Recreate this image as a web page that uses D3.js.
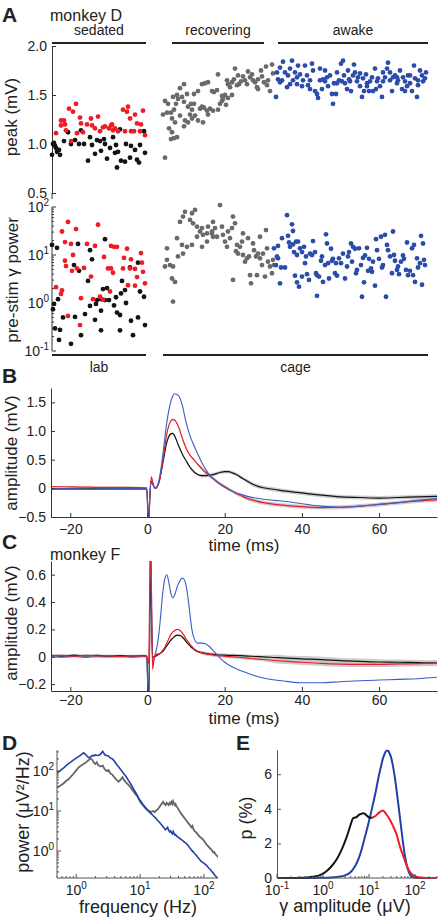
<!DOCTYPE html>
<html><head><meta charset="utf-8">
<script src="https://cdn.jsdelivr.net/npm/d3@7"></script>
<style>
body{margin:0;background:#fff;}
svg text{font-family:"Liberation Sans",Arial,Helvetica,sans-serif;fill:#222;}
</style></head><body>
<svg id="fig" width="439" height="919"></svg>
<script>
// ---------------- DATA ----------------
// Panel A: [trial index, peak (mV)]
const sedRedPeak = [[24,1.41],[17,1.36],[21,1.33],[9,1.24],[12,1.24],[9,1.19],[13,1.2],[4,1.11],[14,1.14],[19,1.03],[28,1.27],[29,1.21],[25,1.11],[31,1.12],[35,1.2],[39,1.26],[40,1.19],[46,1.28],[43,1.16],[48,1.13],[51,1.17],[53,1.18],[57,1.16],[59,1.19],[60,1.2],[61,1.14],[63,1.16],[66,1.13],[71,1.35],[76,1.38],[75,1.33],[78,1.26],[73,1.13],[79,1.13],[83,1.3],[85,1.21],[89,1.2],[91,1.34],[93,1.09],[88,1.13],[82,1.13]];
const sedBlkPeak = [[1,1.0],[0,0.89],[3,0.98],[4,0.96],[7,0.94],[8,0.89],[12,1.03],[16,1.12],[19,1.0],[23,1.04],[27,1.0],[29,1.14],[32,1.0],[36,0.83],[38,1.07],[40,0.99],[43,0.9],[45,1.04],[48,1.03],[49,0.93],[52,1.05],[53,1.0],[55,0.85],[58,0.96],[61,1.07],[63,0.91],[64,0.99],[66,0.92],[68,1.15],[65,0.76],[69,0.83],[73,0.82],[74,1.0],[78,0.86],[79,0.98],[83,0.94],[85,0.84],[88,0.99],[87,0.81],[93,0.91],[92,1.13],[2,1.01],[5,0.92]];
const recPeak = [[113,0.86],[119,1.05],[122,1.06],[125,1.07],[117,1.16],[120,1.12],[123,1.22],[132,1.18],[136,1.22],[146,1.24],[115,1.32],[119,1.32],[122,1.35],[116,1.41],[124,1.41],[126,1.46],[125,1.5],[128,1.57],[130,1.48],[132,1.43],[135,1.51],[136,1.38],[138,1.3],[140,1.35],[142,1.41],[143,1.29],[146,1.54],[150,1.61],[153,1.62],[156,1.63],[148,1.36],[150,1.38],[152,1.37],[155,1.34],[158,1.36],[160,1.54],[162,1.53],[165,1.55],[166,1.71],[161,1.34],[168,1.41],[170,1.49],[171,1.46],[173,1.5],[175,1.65],[176,1.61],[178,1.58],[180,1.63],[182,1.66],[183,1.77],[186,1.7],[187,1.61],[189,1.64],[191,1.69],[193,1.65],[195,1.61],[196,1.74],[198,1.68],[200,1.71],[201,1.65],[203,1.63],[205,1.58],[206,1.66],[209,1.75],[210,1.69],[212,1.63],[214,1.79],[215,1.6],[216,1.65],[218,1.54],[220,1.81],[221,1.72],[180,1.5],[185,1.6],[176,1.47],[170,1.44],[174,1.4],[166,1.35],[139,1.41],[156,1.3],[151,1.22],[142,1.51],[111,1.3],[113,1.44],[121,1.48],[132,1.61],[133,1.24],[140,1.26],[128,1.29],[120,1.26],[206,1.56]];
const awkPeak = [[224,1.48],[225,1.73],[226,1.66],[228,1.78],[230,1.65],[231,1.84],[233,1.73],[235,1.58],[236,1.7],[238,1.77],[240,1.85],[241,1.65],[243,1.73],[245,1.68],[246,1.8],[248,1.71],[250,1.59],[251,1.65],[253,1.8],[255,1.7],[256,1.6],[258,1.56],[260,1.82],[261,1.75],[263,1.54],[265,1.51],[266,1.47],[268,1.77],[270,1.56],[271,1.66],[273,1.64],[275,1.68],[276,1.59],[278,1.7],[280,1.51],[281,1.41],[282,1.62],[284,1.51],[285,1.73],[287,1.65],[289,1.82],[291,1.85],[292,1.7],[293,1.62],[295,1.56],[296,1.75],[297,1.66],[299,1.54],[301,1.7],[302,1.81],[303,1.73],[305,1.64],[306,1.68],[308,1.59],[310,1.48],[311,1.67],[312,1.54],[314,1.71],[315,1.62],[317,1.54],[318,1.64],[320,1.68],[321,1.54],[323,1.77],[325,1.64],[326,1.67],[328,1.59],[330,1.48],[331,1.73],[333,1.68],[335,1.77],[336,1.83],[338,1.65],[340,1.54],[341,1.68],[343,1.7],[345,1.62],[346,1.65],[348,1.75],[350,1.56],[351,1.68],[353,1.64],[355,1.59],[356,1.7],[358,1.62],[360,1.54],[362,1.8],[363,1.67],[365,1.48],[366,1.6],[368,1.75],[370,1.7],[371,1.64],[373,1.67],[374,1.73],[228,1.63],[238,1.61],[245,1.61],[258,1.65],[268,1.65],[273,1.75],[285,1.62],[290,1.64],[298,1.64],[308,1.72],[315,1.59],[324,1.56],[331,1.64],[338,1.73],[345,1.68],[353,1.54],[358,1.7],[366,1.65]];
// Panel A: [trial index, log10 pre-stim gamma power]
const sedRedPow = [[16,1.69],[10,1.49],[24,1.54],[46,1.63],[13,1.27],[19,1.23],[35,1.23],[43,1.19],[59,1.19],[62,1.17],[65,1.17],[21,1.0],[13,0.88],[14,0.77],[20,0.67],[25,0.72],[32,0.73],[39,0.55],[52,0.96],[56,0.72],[59,0.72],[61,0.63],[75,1.13],[72,0.94],[79,0.91],[89,1.04],[90,0.84],[71,0.72],[78,0.72],[83,0.71],[91,0.65],[85,0.54],[93,0.41],[76,0.37],[83,0.36],[4,0.33],[10,0.26],[9,0.19],[29,0.1],[41,0.08],[48,0.13],[58,0.24],[51,0.07],[16,-0.27],[28,-0.46]];
const sedBlkPow = [[0,1.21],[5,1.15],[26,1.23],[53,1.33],[38,1.1],[40,0.91],[22,0.79],[27,0.67],[36,0.46],[55,0.31],[6,0.08],[2,-0.02],[1,-0.13],[11,-0.3],[23,-0.29],[33,-0.23],[38,-0.06],[45,0.06],[44,-0.02],[49,0.08],[53,0.06],[57,0.06],[51,0.29],[62,-0.05],[64,0.12],[69,0.2],[70,0.46],[73,0.27],[74,0.0],[65,-0.2],[68,-0.25],[49,-0.16],[43,-0.35],[79,-0.37],[86,-0.3],[78,0.74],[88,0.24],[92,0.13],[93,-0.46],[3,-0.53],[8,-0.56],[29,-0.67],[49,-0.57],[68,-0.57],[81,-0.67],[7,-0.77],[19,-0.85],[86,0.84]];
const recPow = [[121,0.03],[115,0.9],[113,0.76],[118,0.79],[121,0.76],[120,0.51],[123,0.44],[115,1.14],[126,0.97],[130,1.21],[135,1.17],[128,1.69],[131,1.8],[133,1.9],[138,1.73],[141,1.66],[145,1.59],[148,1.49],[150,1.56],[151,1.42],[155,1.45],[156,1.59],[160,1.49],[161,1.38],[140,1.87],[143,1.94],[140,1.21],[145,1.38],[150,1.17],[155,1.28],[131,1.03],[125,1.35],[168,2.04],[161,1.69],[163,1.56],[160,1.45],[165,1.38],[170,1.59],[171,1.42],[173,1.28],[175,1.17],[176,1.49],[178,1.35],[180,1.56],[181,1.8],[183,1.66],[184,1.08],[185,1.21],[186,1.03],[188,1.17],[190,1.28],[191,1.0],[193,0.86],[195,0.93],[197,0.97],[199,0.41],[201,1.24],[202,1.1],[204,0.97],[205,0.58],[206,1.03],[208,0.93],[210,0.79],[211,1.03],[213,0.55],[214,1.52],[215,1.14],[216,0.86],[218,0.76],[220,0.62],[221,0.9],[222,0.79],[181,0.48],[198,0.58],[191,1.45],[196,1.35],[208,1.38]];
const awkPow = [[235,1.83],[240,1.64],[241,1.5],[230,1.35],[236,1.4],[226,1.19],[222,1.14],[225,0.97],[229,0.74],[233,0.74],[228,0.41],[238,1.17],[237,1.26],[241,1.22],[244,1.28],[246,1.28],[248,1.14],[250,1.06],[245,1.0],[243,0.57],[245,0.43],[250,0.55],[252,1.17],[254,0.97],[253,0.83],[255,0.6],[257,0.48],[258,1.03],[260,1.0],[261,1.29],[263,1.06],[264,0.62],[265,0.58],[265,0.15],[267,0.55],[269,0.88],[270,0.97],[271,0.44],[273,0.79],[274,1.43],[275,1.24],[276,0.83],[277,0.51],[279,1.13],[280,0.88],[281,0.92],[283,0.62],[284,0.83],[285,0.57],[287,0.93],[289,0.83],[291,1.03],[293,0.51],[295,0.76],[296,0.97],[297,1.06],[299,1.24],[300,0.86],[301,1.17],[303,1.13],[304,0.62],[305,0.69],[307,1.14],[309,0.79],[310,0.13],[311,0.94],[312,0.43],[313,0.99],[315,1.15],[316,0.67],[317,0.92],[319,0.72],[320,0.65],[321,0.86],[323,0.36],[324,1.33],[325,1.1],[327,0.92],[329,1.38],[330,0.74],[331,0.79],[333,1.42],[334,0.13],[335,1.21],[336,1.1],[338,0.97],[340,0.62],[341,1.49],[342,1.0],[343,0.88],[345,0.69],[346,0.76],[347,0.6],[349,0.86],[351,0.99],[352,0.92],[354,0.69],[355,1.26],[356,0.58],[358,0.67],[360,1.14],[361,0.58],[362,1.21],[363,0.44],[365,0.93],[366,0.74],[368,0.83],[369,1.4],[370,0.38],[371,1.24],[372,0.9],[373,0.79],[247,0.34],[242,1.06],[226,0.93],[224,0.79]];
const peakTicks = [0.5, 1.0, 1.5, 2.0];
const stateLabels = ["sedated", "recovering", "awake"];
const stateRanges = [[0, 94], [120, 212], [226, 376]];
const placeLabels = ["lab", "cage"];
const placeRanges = [[0, 94], [111, 376]];

// Panel B (monkey D): time (ms) and mean LFP (mV)
const bTime  = [-25,-20,-15,-10,-5,-0.2,0.3,0.6,1.0,1.5,2,2.5,3,4,5,6,6.5,7,8,9,10,11,12,13,14,15,16,17,18,19,20,21,22,23,24,26,28,30,33,36,40,45,50,55,60,65,70,75];
const bBlack = [-0.01,-0.01,-0.01,-0.01,-0.01,-0.01,-0.65,-0.15,0.12,0.06,0.0,0.03,0.12,0.45,0.8,0.95,0.96,0.92,0.75,0.6,0.48,0.37,0.29,0.24,0.22,0.22,0.23,0.24,0.26,0.28,0.29,0.29,0.27,0.24,0.2,0.12,0.05,0.01,-0.02,-0.05,-0.08,-0.12,-0.15,-0.16,-0.17,-0.16,-0.15,-0.14];
const bRed   = [0.03,0.025,0.02,0.015,0.015,0.01,-0.65,-0.15,0.2,0.06,0.0,0.03,0.1,0.5,0.95,1.17,1.2,1.19,1.08,0.88,0.7,0.58,0.5,0.42,0.35,0.28,0.22,0.17,0.12,0.07,0.03,-0.01,-0.05,-0.09,-0.12,-0.18,-0.22,-0.25,-0.28,-0.3,-0.32,-0.335,-0.33,-0.31,-0.28,-0.25,-0.22,-0.2];
const bBlue  = [-0.01,-0.01,-0.015,-0.01,-0.01,-0.01,-0.65,-0.12,0.1,0.05,0.0,0.03,0.15,0.6,1.15,1.5,1.6,1.65,1.62,1.45,1.15,0.92,0.75,0.6,0.46,0.34,0.24,0.17,0.11,0.06,0.02,-0.02,-0.05,-0.08,-0.1,-0.14,-0.17,-0.19,-0.21,-0.23,-0.27,-0.31,-0.33,-0.31,-0.28,-0.25,-0.21,-0.18];
const bSem   = [0.012,0.012,0.012,0.012,0.012,0.012,0.01,0.01,0.01,0.01,0.01,0.01,0.01,0.015,0.015,0.015,0.015,0.015,0.015,0.015,0.015,0.015,0.015,0.015,0.03,0.03,0.03,0.03,0.03,0.03,0.03,0.03,0.03,0.03,0.03,0.035,0.035,0.035,0.035,0.035,0.035,0.035,0.035,0.035,0.035,0.035,0.035,0.035];

// Panel C (monkey F)
const cTime  = [-25,-22,-19,-16,-13,-10,-7,-4,-1,-0.2,0.3,0.8,1.3,1.8,2.5,3,3.5,4,4.5,5,5.5,6,6.5,7,7.8,8.5,9,9.5,10,10.5,11,11.5,12,12.5,13,14,15,16,17,18,19,20,22,24,26,28,30,33,36,40,45,50,55,60,65,70,75];
const cBlack = [0.01,0.005,0.012,0.006,0.01,0.004,0.008,0.005,0.008,0.005,-0.35,0.6,0.0,0.0,0.01,0.02,0.03,0.04,0.06,0.08,0.1,0.12,0.135,0.148,0.158,0.155,0.145,0.13,0.11,0.095,0.08,0.065,0.055,0.045,0.038,0.03,0.025,0.02,0.018,0.015,0.013,0.012,0.01,0.008,0.005,0.002,0.0,-0.005,-0.01,-0.015,-0.02,-0.028,-0.033,-0.038,-0.04,-0.043,-0.045];
const cRed   = [0.008,0.01,0.004,0.01,0.006,0.008,0.003,0.007,0.006,0.005,-0.05,0.95,-0.09,0.0,0.02,0.02,0.03,0.05,0.07,0.1,0.13,0.16,0.18,0.19,0.2,0.19,0.175,0.155,0.13,0.11,0.09,0.075,0.06,0.05,0.04,0.03,0.022,0.017,0.013,0.01,0.007,0.004,0.0,-0.005,-0.01,-0.015,-0.02,-0.027,-0.033,-0.04,-0.048,-0.053,-0.055,-0.055,-0.052,-0.05,-0.045];
const cBlue  = [0.0,-0.003,0.002,-0.004,0.0,-0.002,0.001,-0.003,0.0,0.0,-0.45,0.85,-0.05,0.0,0.08,0.18,0.33,0.48,0.57,0.6,0.55,0.47,0.43,0.45,0.52,0.56,0.575,0.565,0.52,0.43,0.31,0.2,0.14,0.11,0.1,0.1,0.095,0.075,0.045,0.015,-0.015,-0.04,-0.075,-0.1,-0.12,-0.14,-0.155,-0.17,-0.18,-0.19,-0.19,-0.182,-0.175,-0.17,-0.165,-0.16,-0.15];
const cSem   = [0.008,0.008,0.008,0.008,0.008,0.008,0.008,0.008,0.008,0.008,0.005,0.005,0.005,0.005,0.005,0.005,0.005,0.005,0.005,0.005,0.005,0.005,0.005,0.005,0.005,0.005,0.005,0.005,0.005,0.005,0.005,0.005,0.005,0.005,0.005,0.012,0.012,0.012,0.012,0.012,0.012,0.012,0.012,0.012,0.012,0.012,0.012,0.02,0.02,0.02,0.02,0.02,0.02,0.02,0.02,0.02,0.02];
const timeTicks = [-20, 0, 20, 40, 60];
const bTicks = [-0.5, 0, 0.5, 1.0, 1.5];
const cTicks = [-0.2, 0, 0.2, 0.4, 0.6];

// Panel D: [frequency (Hz), power (uV^2/Hz)]
const dGrey = [[0.5,38],[0.55,42],[0.6,46],[0.65,51],[0.7,57],[0.75,61],[0.8,68],[0.9,84],[1.0,104],[1.1,124],[1.2,138],[1.3,150],[1.4,160],[1.5,176],[1.6,194],[1.7,205],[1.8,186],[1.9,160],[2.0,150],[2.1,166],[2.2,140],[2.4,130],[2.6,136],[2.8,110],[3.0,100],[3.2,106],[3.4,88],[3.7,80],[4.0,68],[4.3,60],[4.6,54],[5.0,62],[5.3,70],[5.6,60],[6.0,52],[6.5,46],[7.0,40],[7.5,34],[8.0,30],[8.5,26],[9.0,24],[9.5,20],[10,17],[11,14],[12,12],[13,10.5],[14,10],[15,9.4],[16,10],[17,9.4],[18,10.5],[19,11],[20,12.5],[21,14],[22,15.5],[23,17],[24,15],[25,14],[26,16],[27,15],[28,14],[29,16],[30,15],[31,17],[32,15],[33,17.5],[34,15],[35,14],[36,15],[37,13],[38,12.5],[40,11],[42,9.6],[44,8.6],[46,7.8],[48,7.2],[50,6.5],[53,5.8],[56,5.1],[60,4.5],[64,3.9],[66,4.2],[68,3.6],[72,3.1],[76,2.9],[80,2.6],[85,2.3],[90,2.15],[95,2.0],[100,1.8],[105,1.6],[110,1.45],[115,1.35],[120,1.25],[125,1.15],[130,1.1],[135,1.0],[140,0.92],[145,0.95],[150,0.85],[155,0.8],[160,0.76],[166,0.7]];
const dBlue = [[0.5,90],[0.55,100],[0.6,112],[0.65,124],[0.7,138],[0.75,150],[0.8,162],[0.9,188],[1.0,210],[1.1,232],[1.2,255],[1.3,285],[1.4,262],[1.5,228],[1.6,215],[1.7,228],[1.8,245],[1.9,240],[2.0,252],[2.1,248],[2.2,245],[2.4,262],[2.6,310],[2.7,280],[2.8,255],[3.0,245],[3.2,238],[3.4,212],[3.7,200],[4.0,172],[4.3,145],[4.6,128],[5.0,108],[5.3,95],[5.6,84],[6.0,74],[6.5,60],[7.0,50],[7.5,41],[8.0,34],[8.5,29],[9.0,25],[9.5,21],[10,18.5],[11,15],[12,12.5],[13,10.8],[14,9.4],[15,8.5],[16,7.6],[17,7.0],[18,6.4],[19,5.7],[20,5.3],[21,4.8],[22,4.4],[23,4.0],[24,3.7],[25,3.4],[26,3.6],[27,3.9],[28,3.3],[29,3.0],[30,3.2],[31,2.9],[32,2.7],[33,3.1],[34,2.7],[35,2.5],[36,2.6],[37,2.4],[38,2.3],[40,2.2],[42,2.05],[44,1.95],[46,1.85],[48,1.75],[50,1.65],[53,1.55],[56,1.4],[60,1.2],[64,1.05],[68,0.95],[72,0.85],[76,0.78],[80,0.7],[85,0.62],[90,0.56],[95,0.52],[100,0.5],[105,0.46],[110,0.44],[115,0.4],[120,0.37],[125,0.35],[130,0.32],[135,0.3],[140,0.28],[145,0.26],[150,0.24],[155,0.23],[160,0.22],[166,0.21]];

// Panel E: [gamma amplitude (uV), p (%)]
const eBlack = [[0.1,0],[0.2,0],[0.3,0.01],[0.4,0.02],[0.5,0.04],[0.6,0.07],[0.7,0.1],[0.8,0.14],[1.0,0.25],[1.2,0.4],[1.5,0.65],[2,1.1],[2.5,1.6],[3,2.1],[3.5,2.6],[4,3.1],[4.5,3.45],[5,3.5],[5.5,3.55],[6,3.65],[7,3.72],[7.5,3.75],[8,3.72],[9,3.6],[10,3.5],[11,3.48],[12,3.5]];
const eRed = [[12,3.5],[14,3.6],[16,3.75],[18,3.85],[20,3.9],[22,3.8],[25,3.6],[28,3.4],[32,3.1],[36,2.8],[40,2.5],[45,2.0],[50,1.6],[55,1.3],[60,1.0],[70,0.55],[80,0.3],[90,0.17],[100,0.1],[120,0.04],[150,0.01],[200,0],[300,0]];
const eBlue = [[0.1,0],[0.5,0],[1,0.01],[1.5,0.03],[2,0.06],[3,0.15],[4,0.35],[5,0.7],[6,1.15],[7,1.7],[8,2.3],[9,2.8],[10,3.3],[11,3.75],[12,4.2],[14,5.0],[16,5.8],[18,6.4],[20,6.9],[22,7.2],[24,7.35],[26,7.35],[28,7.2],[30,7.0],[33,6.5],[36,5.9],[40,5.0],[45,3.9],[50,2.9],[55,2.0],[60,1.3],[70,0.5],[80,0.15],[90,0.05],[100,0.01],[150,0],[300,0]];
const eTicks = [0, 2, 4, 6];

// ---------------- DRAWING ----------------
const C = {red:"#ee1c25", black:"#141414", grey:"#6a6a6a", blue:"#2b4cab", lblue:"#3a5ec8", axis:"#333"};
const svg = d3.select("#fig");

function addText(x, y, s, size, anchor, weight, rotate) {
  const t = svg.append("text").attr("x", x).attr("y", y).attr("font-size", size)
    .attr("text-anchor", anchor || "start").attr("font-weight", weight || "normal").text(s);
  if (rotate) t.attr("transform", `rotate(-90,${x},${y})`);
  return t;
}
function styleAxis(g, col) {
  g.attr("font-family", null).attr("font-size", null);
  g.select(".domain").attr("stroke", col || C.axis).attr("stroke-width", 1);
  g.selectAll(".tick line").attr("stroke", col || C.axis);
  g.selectAll(".tick text").attr("font-size", 14).attr("fill", "#333");
}
function supLabel(sel, exp) {
  sel.append("tspan").text("10");
  sel.append("tspan").attr("dy", -6).attr("font-size", 10).text(exp);
}
// manual log axis (inward ticks, minor ticks)
function logAxis(orient, pos, scale, col, labelOffset) {
  const g = svg.append("g");
  const [d0, d1] = scale.domain();
  const r = scale.range();
  if (orient === "left") g.append("line").attr("x1", pos).attr("x2", pos).attr("y1", r[0]).attr("y2", r[1]).attr("stroke", col);
  else g.append("line").attr("y1", pos).attr("y2", pos).attr("x1", r[0]).attr("x2", r[1]).attr("stroke", col);
  const e0 = Math.floor(Math.log10(d0)), e1 = Math.ceil(Math.log10(d1));
  for (let e = e0; e <= e1; e++) {
    for (let m = 1; m <= 9; m++) {
      const v = m * Math.pow(10, e);
      if (v < d0 * 0.999 || v > d1 * 1.001) continue;
      const p = scale(v), len = m === 1 ? 4 : 2;
      if (orient === "left") g.append("line").attr("x1", pos).attr("x2", pos + len).attr("y1", p).attr("y2", p).attr("stroke", col);
      else g.append("line").attr("y1", pos).attr("y2", pos - len).attr("x1", p).attr("x2", p).attr("stroke", col);
      if (m === 1) {
        const t = orient === "left"
          ? g.append("text").attr("x", pos - 3).attr("y", p + 5).attr("text-anchor", "end")
          : g.append("text").attr("x", p).attr("y", pos + labelOffset).attr("text-anchor", "middle");
        t.attr("font-size", 14).attr("fill", "#333");
        supLabel(t, String(e));
      }
    }
  }
}

// ---- Panel A ----
const xA = d3.scaleLinear().domain([0, 376]).range([52, 428]);
const yPeak = d3.scaleLinear().domain([0.5, 2.0]).range([193, 46]);
const yPow = d3.scaleLog().domain([0.1, 100]).range([351, 207]);

addText(2, 22, "A", 21, "start", "bold");
addText(50, 21, "monkey D", 16);
stateRanges.forEach((r, i) => {
  svg.append("line").attr("x1", xA(r[0])).attr("x2", xA(r[1])).attr("y1", 43).attr("y2", 43).attr("stroke", "#222").attr("stroke-width", 2);
  addText((xA(r[0]) + xA(r[1])) / 2, 35, stateLabels[i], 14, "middle");
});
placeRanges.forEach((r, i) => {
  svg.append("line").attr("x1", xA(r[0])).attr("x2", xA(r[1])).attr("y1", 355).attr("y2", 355).attr("stroke", "#222").attr("stroke-width", 2);
  addText((xA(r[0]) + xA(r[1])) / 2, 372, placeLabels[i], 14, "middle");
});
const gA1 = svg.append("g").attr("transform", "translate(52,0)")
  .call(d3.axisLeft(yPeak).tickValues(peakTicks).tickFormat(d3.format(".1f")).tickSizeInner(-4).tickSizeOuter(0).tickPadding(5));
styleAxis(gA1);
svg.append("line").attr("x1", 52).attr("x2", 52).attr("y1", yPeak(0.5)).attr("y2", yPeak(0.5) + 6).attr("stroke", C.axis);
logAxis("left", 52, yPow, C.axis);
addText(17, 117, "peak (mV)", 17, "middle", "normal", true);
addText(18, 280, "pre-stim \u03b3 power", 17, "middle", "normal", true);

function dots(data, y, color, isLog) {
  svg.append("g").selectAll("circle").data(data).join("circle")
    .attr("cx", d => xA(d[0]))
    .attr("cy", d => y(isLog ? Math.pow(10, d[1]) : d[1]))
    .attr("r", 2.4).attr("fill", color);
}
dots(sedBlkPeak, yPeak, C.black); dots(sedRedPeak, yPeak, C.red);
dots(recPeak, yPeak, C.grey); dots(awkPeak, yPeak, C.blue);
dots(sedBlkPow, yPow, C.black, true); dots(sedRedPow, yPow, C.red, true);
dots(recPow, yPow, C.grey, true); dots(awkPow, yPow, C.blue, true);

// ---- Panels B & C ----
const xT = d3.scaleLinear().domain([-25, 75]).range([51, 437]);
const yB = d3.scaleLinear().domain([-0.5, 1.75]).range([517, 388]);
const yC = d3.scaleLinear().domain([-0.25, 0.7]).range([691, 561]);

function tracePanel(id, y, times, series, sem, ticks, fmt, bandKeys, pad) {
  const [yb, yt] = y.range();
  svg.append("clipPath").attr("id", id).append("rect").attr("x", xT.range()[0]).attr("y", yt).attr("width", xT.range()[1] - xT.range()[0]).attr("height", yb - yt);
  const g = svg.append("g").attr("clip-path", `url(#${id})`);
  const area = vals => d3.area().curve(d3.curveMonotoneX).x((d, i) => xT(times[i])).y0((d, i) => y(vals[i] - sem[i])).y1((d, i) => y(vals[i] + sem[i]))(vals);
  bandKeys.forEach(k => g.append("path").attr("d", area(series[k].v)).attr("fill", "#c4c4c4").attr("opacity", 0.85));
  Object.keys(series).forEach(k => {
    const s = series[k];
    const line = d3.line().curve(d3.curveMonotoneX).x((d, i) => xT(times[i])).y(d => y(d));
    g.append("path").attr("d", line(s.v)).attr("fill", "none").attr("stroke", s.c).attr("stroke-width", s.w);
  });
  const gx = svg.append("g").attr("transform", `translate(0,${yb})`)
    .call(d3.axisBottom(xT).tickValues(timeTicks).tickSizeInner(-4).tickSizeOuter(0).tickPadding(pad));
  styleAxis(gx);
  const gy = svg.append("g").attr("transform", `translate(${xT.range()[0]},0)`)
    .call(d3.axisLeft(y).tickValues(ticks).tickFormat(fmt).tickSizeInner(-4).tickSizeOuter(0).tickPadding(5));
  styleAxis(gy);
}
const fmtB = d => d === 0 ? "0" : d3.format(".1f")(d);
tracePanel("clipB", yB, bTime, {black:{v:bBlack,c:C.black,w:1.2}, red:{v:bRed,c:C.red,w:1.2}, blue:{v:bBlue,c:C.lblue,w:1.1}}, bSem, bTicks, fmtB, ["black","red"], 7);
addText(2, 383, "B", 21, "start", "bold");
addText(17, 453, "amplitude (mV)", 17, "middle", "normal", true);
addText(244, 551, "time (ms)", 17, "middle");

tracePanel("clipC", yC, cTime, {black:{v:cBlack,c:C.black,w:1.2}, blue:{v:cBlue,c:C.lblue,w:1.1}, red:{v:cRed,c:C.red,w:1.2}}, cSem, cTicks, fmtB, ["black","red"], 4);
addText(2, 549, "C", 21, "start", "bold");
addText(50, 560, "monkey F", 16);
addText(17, 623, "amplitude (mV)", 17, "middle", "normal", true);
addText(244, 724, "time (ms)", 17, "middle");

// ---- Panel D ----
const xD = d3.scaleLog().domain([0.5, 166]).range([57, 218]);
const yD = d3.scaleLog().domain([0.224, 335]).range([877, 750]);
svg.append("clipPath").attr("id", "clipD").append("rect").attr("x", 57).attr("y", 750).attr("width", 161).attr("height", 128);
const gD = svg.append("g").attr("clip-path", "url(#clipD)");
const lineD = d3.line().x(d => xD(d[0])).y(d => yD(d[1]));
gD.append("path").attr("d", lineD(dGrey)).attr("fill", "none").attr("stroke", "#666").attr("stroke-width", 1.8);
gD.append("path").attr("d", lineD(dBlue)).attr("fill", "none").attr("stroke", "#2340a8").attr("stroke-width", 1.6);
logAxis("left", 57, yD, "#555");
logAxis("bottom", 878, xD, "#555", 17);
addText(2, 750, "D", 21, "start", "bold");
addText(29, 812, "power (\u03bcV\u00b2/Hz)", 18, "middle", "normal", true);
addText(138, 913, "frequency (Hz)", 18, "middle");

// ---- Panel E ----
const xE = d3.scaleLog().domain([0.1, 300]).range([277, 437]);
const yE = d3.scaleLinear().domain([0, 7.4]).range([878, 750]);
const lineE = d3.line().curve(d3.curveMonotoneX).x(d => xE(d[0])).y(d => yE(d[1]));
svg.append("path").attr("d", lineE(eBlue)).attr("fill", "none").attr("stroke", "#2340a8").attr("stroke-width", 2);
svg.append("path").attr("d", lineE(eBlack)).attr("fill", "none").attr("stroke", C.black).attr("stroke-width", 2);
svg.append("path").attr("d", lineE(eRed)).attr("fill", "none").attr("stroke", C.red).attr("stroke-width", 2);
logAxis("bottom", 878, xE, "#555", 17);
const gEy = svg.append("g").attr("transform", "translate(277,0)")
  .call(d3.axisLeft(yE).tickValues(eTicks).tickSizeInner(-4).tickSizeOuter(0).tickPadding(5));
styleAxis(gEy, "#555");
addText(236, 750, "E", 21, "start", "bold");
addText(252, 818, "p (%)", 18, "middle", "normal", true);
addText(345, 912, "\u03b3 amplitude (\u03bcV)", 18, "middle");
</script>
</body></html>
